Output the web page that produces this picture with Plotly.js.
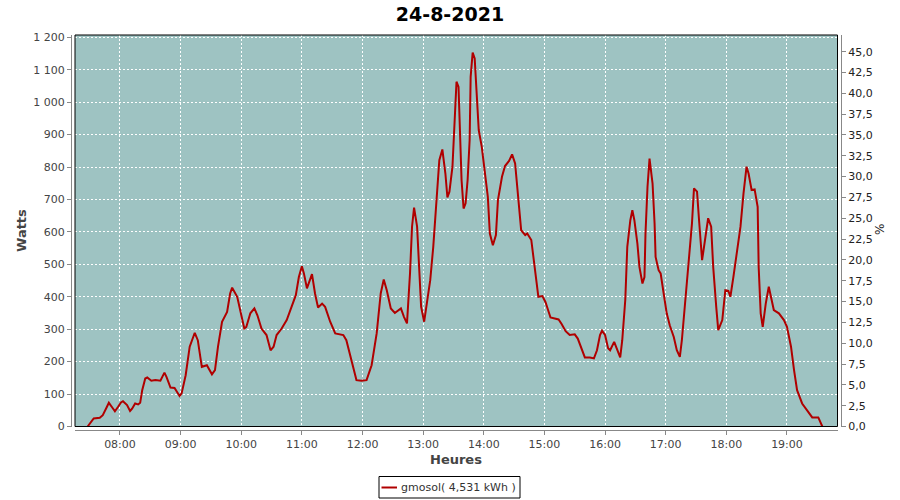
<!DOCTYPE html>
<html>
<head>
<meta charset="utf-8">
<script src="https://cdn.plot.ly/plotly-3.0.1.min.js"></script>
<style>html,body{margin:0;padding:0;background:#fff;}#chart{width:900px;height:500px;}</style>
</head>
<body>
<div id="chart"></div>
<script>
const chartTitle = "24-8-2021";
const day = "2021-08-24";
const seriesName = "gmosol( 4,531 kWh )";
const times = ["07:28","07:34","07:40","07:43","07:47","07:49","07:52","07:55","07:58","08:01","08:03","08:07","08:10","08:12","08:15","08:18","08:20","08:22","08:25","08:27","08:31","08:35","08:40","08:44","08:46","08:50","08:54","08:59","09:01","09:05","09:09","09:14","09:17","09:21","09:26","09:31","09:34","09:37","09:41","09:46","09:49","09:51","09:56","10:00","10:03","10:05","10:09","10:13","10:16","10:20","10:25","10:29","10:32","10:35","10:40","10:45","10:50","10:54","10:57","11:00","11:02","11:05","11:10","11:13","11:16","11:20","11:23","11:28","11:33","11:41","11:44","11:49","11:54","11:59","12:04","12:09","12:14","12:18","12:21","12:24","12:28","12:32","12:38","12:41","12:44","12:47","12:49","12:51","12:54","12:56","12:58","13:01","13:03","13:07","13:10","13:13","13:16","13:19","13:22","13:24","13:26","13:29","13:31","13:33","13:35","13:36","13:38","13:40","13:42","13:44","13:46","13:47","13:49","13:51","13:53","13:55","13:58","14:01","14:04","14:06","14:09","14:12","14:14","14:18","14:21","14:25","14:28","14:31","14:34","14:37","14:41","14:43","14:47","14:50","14:54","14:58","15:01","15:06","15:14","15:17","15:21","15:25","15:30","15:33","15:37","15:40","15:45","15:49","15:52","15:55","15:57","16:00","16:03","16:05","16:09","16:12","16:15","16:17","16:20","16:22","16:25","16:27","16:29","16:32","16:34","16:37","16:39","16:40","16:42","16:44","16:47","16:49","16:50","16:53","16:55","16:58","17:01","17:04","17:08","17:11","17:14","17:16","17:19","17:22","17:26","17:28","17:31","17:33","17:36","17:37","17:40","17:42","17:45","17:47","17:50","17:52","17:56","17:59","18:02","18:04","18:07","18:11","18:14","18:17","18:20","18:22","18:25","18:28","18:31","18:32","18:34","18:36","18:39","18:42","18:44","18:47","18:52","18:57","19:00","19:04","19:07","19:10","19:15","19:20","19:25","19:31","19:35"];
const watts = [0,25,27,35,60,73,60,47,60,74,78,66,48,55,71,68,73,112,148,151,141,143,141,166,153,120,119,94,102,158,246,289,266,184,189,161,174,246,323,353,410,428,400,338,302,307,349,364,343,302,282,235,246,282,302,328,369,405,461,494,472,426,470,410,367,379,369,323,287,282,266,205,143,141,143,189,287,410,453,420,364,350,364,338,318,472,616,675,616,492,369,323,369,451,554,693,821,854,780,706,724,801,924,1063,1047,924,760,672,688,760,883,1078,1153,1135,1006,914,862,780,708,595,559,590,698,770,803,819,839,811,698,605,590,595,575,492,400,402,384,336,330,316,294,282,284,271,241,213,213,210,235,282,295,282,241,235,261,237,213,266,390,554,636,667,636,564,492,441,461,595,739,826,749,626,523,482,472,410,349,312,276,235,215,266,369,472,626,734,724,636,513,534,595,642,616,492,369,297,328,420,418,400,461,554,616,719,801,780,729,731,677,492,349,307,379,431,405,359,349,328,307,246,174,112,71,48,28,28,0];
const xRange = ["07:15:30","19:50:00"];
const wattsRange = [0, 1207];
const pctRange = [0, 47.0];
const yTitle = "Watts", y2Title = "%", xTitle = "Heures";

const xs = times.map(t => day + " " + t);
const W = 900, H = 500, mL = 71, mR = 59, mT = 35, mB = 70;
const pw = W - mL - mR, ph = H - mT - mB;
const px = x => (x - mL) / pw;
const py = y => 1 - (y - mT) / ph;

const tickFont = {family: "DejaVu Sans", size: 11, color: "#444"};
const grid = {showgrid: true, gridcolor: "#ffffff", gridwidth: 1, griddash: "2px,2px"};

const data = [
  {x: xs, y: watts, type: "scatter", mode: "lines", name: seriesName,
   line: {color: "#b00000", width: 2}, showlegend: false, hoverinfo: "x+y"},
  {x: [], y: [], type: "scatter", mode: "lines", yaxis: "y2", showlegend: false, hoverinfo: "skip"}
];

const layout = {
  width: W, height: H,
  margin: {l: mL, r: mR, t: mT, b: mB, pad: 0},
  paper_bgcolor: "#ffffff",
  plot_bgcolor: "#9ec3c2",
  separators: ", ",
  showlegend: false,
  title: {text: chartTitle, x: 0.5, xref: "container", y: 1 - 14/H, yref: "container", yanchor: "middle",
          font: {family: "DejaVu Sans", size: 19, weight: "bold", color: "#000"}},
  xaxis: Object.assign({
    type: "date", range: xRange.map(t => day + " " + t),
    domain: [px(75), px(837.5)], anchor: "free", position: 0,
    tickformat: "%H:%M", dtick: 3600000, tick0: day + " 00:00",
    ticks: "outside", ticklen: 4, tickcolor: "#888", tickwidth: 1,
    showline: true, linecolor: "#888", linewidth: 1, zeroline: false,
    tickfont: tickFont
  }, grid),
  yaxis: Object.assign({
    range: wattsRange, domain: [py(426.5), 1], anchor: "free", position: 0,
    dtick: 100, tick0: 0, tickformat: ",d",
    ticks: "outside", ticklen: 4, tickcolor: "#888", tickwidth: 1,
    showline: true, linecolor: "#888", linewidth: 1, zeroline: false,
    tickfont: tickFont
  }, grid),
  yaxis2: {
    range: pctRange, overlaying: "y", side: "right", anchor: "free", position: 1,
    dtick: 2.5, tick0: 0, tickformat: ".1f", showgrid: false, zeroline: false,
    ticks: "outside", ticklen: 4, tickcolor: "#888", tickwidth: 1,
    showline: true, linecolor: "#888", linewidth: 1,
    tickfont: {family: "DejaVu Sans", size: 11, color: "#222"}
  },
  shapes: [
    {type: "rect", xref: "x domain", yref: "y domain", x0: 0, x1: 1, y0: 0, y1: 1,
     line: {color: "#000", width: 1}, fillcolor: "rgba(0,0,0,0)", layer: "above"},
    {type: "rect", xref: "paper", yref: "paper", x0: px(379), x1: px(520), y0: py(476.5), y1: py(498),
     line: {color: "#000", width: 1}, fillcolor: "#fff"},
    {type: "line", xref: "paper", yref: "paper", x0: px(381.5), x1: px(397), y0: py(487.5), y1: py(487.5),
     line: {color: "#b00000", width: 2}}
  ],
  annotations: [
    {text: seriesName, xref: "paper", yref: "paper", x: px(399), y: py(487.5), xanchor: "left", yanchor: "middle",
     showarrow: false, font: {family: "DejaVu Sans", size: 11, color: "#333"}},
    {text: yTitle, xref: "paper", yref: "paper", x: px(21), y: py(231), textangle: -90, xanchor: "center", yanchor: "middle",
     showarrow: false, font: {family: "DejaVu Sans", size: 13, weight: "bold", color: "#444"}},
    {text: y2Title, xref: "paper", yref: "paper", x: px(880), y: py(230), textangle: -90, xanchor: "center", yanchor: "middle",
     showarrow: false, font: {family: "DejaVu Sans", size: 12, color: "#222"}},
    {text: xTitle, xref: "paper", yref: "paper", x: px(456), y: py(459), xanchor: "center", yanchor: "middle",
     showarrow: false, font: {family: "DejaVu Sans", size: 13, weight: "bold", color: "#444"}}
  ]
};

Plotly.newPlot("chart", data, layout, {displayModeBar: false, staticPlot: true});
</script>
</body>
</html>
